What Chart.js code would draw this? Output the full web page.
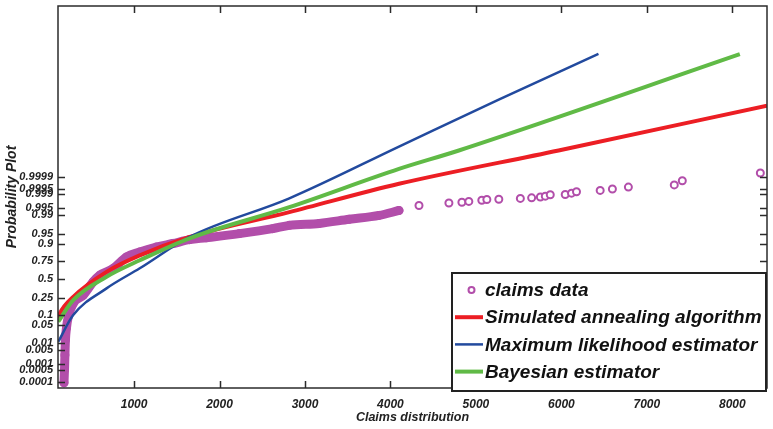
<!DOCTYPE html>
<html>
<head>
<meta charset="utf-8">
<script src="https://cdn.jsdelivr.net/npm/chart.js@4"></script>
<style>
  html, body { margin: 0; padding: 0; background: #fff; }
</style>
</head>
<body>
<canvas id="graf" width="773" height="429"></canvas>
<script>
// y values are kept as normal quantiles (z), the probability plot's own axis
// claims data, dense part of the band
let bandX = [180, 186, 191, 197, 209, 230, 288, 405, 522, 600, 755, 911, 1066, 1261, 1455, 1650, 1845, 2233, 2622, 2817, 3167, 3517, 3867, 4100];
let bandZ = [-3.76, -3.29, -2.75, -2.21, -1.77, -1.36, -0.88, -0.58, -0.09, 0.15, 0.39, 0.81, 0.99, 1.17, 1.30, 1.44, 1.51, 1.66, 1.84, 1.96, 2.03, 2.18, 2.32, 2.50];
// claims data, single points of the upper tail
let tailX = [4334, 4684, 4836, 4917, 5069, 5128, 5268, 5520, 5652, 5754, 5812, 5870, 6045, 6119, 6177, 6454, 6597, 6784, 7321, 7415, 8328];
let tailZ = [2.68, 2.77, 2.80, 2.83, 2.87, 2.90, 2.91, 2.94, 2.96, 2.99, 3.02, 3.07, 3.08, 3.13, 3.18, 3.23, 3.28, 3.35, 3.43, 3.58, 3.86];

// fitted distributions
let saX = [113, 133, 288, 678, 1067, 1650, 2817, 4100, 5967, 8406];
let saZ = [-1.41, -1.23, -0.64, 0.27, 0.87, 1.54, 2.44, 3.47, 4.68, 6.31];
let mleX = [113, 288, 678, 1067, 1650, 2817, 4100, 5267, 6434];
let mleZ = [-2.27, -1.30, -0.33, 0.40, 1.54, 2.94, 4.82, 6.53, 8.19];
let bayesX = [113, 288, 678, 1067, 1650, 2817, 4100, 4800, 8088];
let bayesZ = [-1.54, -0.76, 0.09, 0.69, 1.49, 2.62, 4.01, 4.68, 8.18];

let xTicks = [1000, 2000, 3000, 4000, 5000, 6000, 7000, 8000];
let probTicks = ['0.0001', '0.0005', '0.001', '0.005', '0.01', '0.05', '0.1', '0.25', '0.5', '0.75', '0.9', '0.95', '0.99', '0.995', '0.999', '0.9995', '0.9999'];

let colClaims = 'rgb(178, 78, 170)';
let colSA = 'rgb(236, 30, 36)';
let colMLE = 'rgb(34, 74, 158)';
let colBayes = 'rgb(96, 186, 70)';

// inverse standard normal (Acklam)
function norminv(p){
  let a = [-39.69683028665376, 220.9460984245205, -275.9285104469687, 138.3577518672690, -30.66479806614716, 2.506628277459239];
  let b = [-54.47609879822406, 161.5858368580409, -155.6989798598866, 66.80131188771972, -13.28068155288572];
  let c = [-0.007784894002430293, -0.3223964580411365, -2.400758277161838, -2.549732539343734, 4.374664141464968, 2.938163982698783];
  let d = [0.007784695709041462, 0.3224671290700398, 2.445134137142996, 3.754408661907416];
  let pl = 0.02425, q, r;
  if (p < pl){
    q = Math.sqrt(-2*Math.log(p));
    return (((((c[0]*q+c[1])*q+c[2])*q+c[3])*q+c[4])*q+c[5]) / ((((d[0]*q+d[1])*q+d[2])*q+d[3])*q+1);
  }
  if (p > 1-pl){
    q = Math.sqrt(-2*Math.log(1-p));
    return -(((((c[0]*q+c[1])*q+c[2])*q+c[3])*q+c[4])*q+c[5]) / ((((d[0]*q+d[1])*q+d[2])*q+d[3])*q+1);
  }
  q = p-0.5; r = q*q;
  return (((((a[0]*r+a[1])*r+a[2])*r+a[3])*r+a[4])*r+a[5])*q / (((((b[0]*r+b[1])*r+b[2])*r+b[3])*r+b[4])*r+1);
}

function pts(xs, zs){
  return xs.map((x, i) => ({x: x, y: zs[i]}));
}

let fontFam = '"Liberation Sans", Arial, sans-serif';

// box round the axes with inward ticks, like matlab
let frame = {
  id: 'frame',
  afterDatasetsDraw(chart){
    let ctx = chart.ctx, a = chart.chartArea;
    let xs = chart.scales.x, ys = chart.scales.y;
    ctx.save();
    ctx.strokeStyle = '#2b2b2b';
    ctx.lineWidth = 1.5;
    ctx.beginPath();
    xTicks.forEach(v => {
      let p = Math.round(xs.getPixelForValue(v)) + 0.5;
      ctx.moveTo(p, a.bottom); ctx.lineTo(p, a.bottom - 7);
      ctx.moveTo(p, a.top); ctx.lineTo(p, a.top + 7);
    });
    probTicks.forEach(s => {
      let p = Math.round(ys.getPixelForValue(norminv(parseFloat(s)))) + 0.5;
      ctx.moveTo(a.left, p); ctx.lineTo(a.left + 7, p);
      ctx.moveTo(a.right, p); ctx.lineTo(a.right - 7, p);
    });
    ctx.stroke();
    ctx.strokeRect(a.left, a.top, a.right - a.left, a.bottom - a.top);
    ctx.restore();
  }
};

let legendBox = {
  id: 'legendBox',
  afterDraw(chart){
    let ctx = chart.ctx;
    let bx = 452, by = 273, bw = 314, bh = 118;
    ctx.save();
    ctx.fillStyle = '#fff';
    ctx.fillRect(bx, by, bw, bh);
    ctx.strokeStyle = '#222';
    ctx.lineWidth = 2;
    ctx.strokeRect(bx, by, bw, bh);
    let items = chart.data.datasets.filter(ds => !ds.noLegend);
    items.forEach((ds, i) => {
      let y = by + 17 + i*27.2;
      if (ds.showLine){
        ctx.strokeStyle = ds.borderColor;
        ctx.lineWidth = ds.borderWidth;
        ctx.beginPath();
        ctx.moveTo(bx + 3, y); ctx.lineTo(bx + 31, y);
        ctx.stroke();
      } else {
        ctx.strokeStyle = ds.pointBorderColor;
        ctx.lineWidth = 2;
        ctx.beginPath();
        ctx.arc(bx + 19.5, y, 3, 0, Math.PI*2);
        ctx.stroke();
      }
      ctx.fillStyle = '#111';
      ctx.font = 'italic bold 19px ' + fontFam;
      ctx.textBaseline = 'middle';
      ctx.fillText(ds.label, bx + 33, y + 1);
    });
    ctx.restore();
  }
};

function create_graph(canvas){
  new Chart(canvas, {
    type: 'scatter',
    data: {
      datasets: [{
        label: 'claims data',
        data: pts(bandX, bandZ),
        showLine: false,
        pointRadius: 3.5,
        pointBorderWidth: 2,
        pointBorderColor: colClaims,
        pointBackgroundColor: 'rgba(0,0,0,0)',
        order: 5
      }, {
        label: 'claims band',
        noLegend: true,
        data: pts(bandX, bandZ),
        showLine: true,
        borderColor: colClaims,
        borderWidth: 9,
        borderCapStyle: 'round',
        borderJoinStyle: 'round',
        cubicInterpolationMode: 'monotone',
        pointRadius: 0,
        order: 6
      }, {
        label: 'claims tail',
        noLegend: true,
        data: pts(tailX, tailZ),
        showLine: false,
        pointRadius: 3.5,
        pointBorderWidth: 2,
        pointBorderColor: colClaims,
        pointBackgroundColor: '#fff',
        order: 5
      }, {
        label: 'Simulated annealing algorithm',
        data: pts(saX, saZ),
        showLine: true,
        borderColor: colSA,
        borderWidth: 4,
        cubicInterpolationMode: 'monotone',
        pointRadius: 0,
        order: 3
      }, {
        label: 'Maximum likelihood estimator',
        data: pts(mleX, mleZ),
        showLine: true,
        borderColor: colMLE,
        borderWidth: 2.5,
        cubicInterpolationMode: 'monotone',
        pointRadius: 0,
        order: 2
      }, {
        label: 'Bayesian estimator',
        data: pts(bayesX, bayesZ),
        showLine: true,
        borderColor: colBayes,
        borderWidth: 4,
        cubicInterpolationMode: 'monotone',
        pointRadius: 0,
        order: 1
      }]
    },
    options: {
      responsive: false,
      animation: false,
      layout: { padding: { top: 5, right: 4, left: 0, bottom: 0 } },
      plugins: {
        legend: { display: false },
        tooltip: { enabled: false }
      },
      scales: {
        x: {
          type: 'linear',
          min: 110,
          max: 8406,
          afterBuildTicks: s => { s.ticks = xTicks.map(v => ({value: v})); },
          afterFit: s => { s.height = 41; s.paddingLeft = 0; s.paddingRight = 0; },
          grid: { display: false, drawTicks: false },
          border: { display: false },
          ticks: {
            autoSkip: false, maxRotation: 0, padding: 9, color: '#222',
            callback: v => String(v),
            font: { family: fontFam, size: 12, style: 'italic', weight: 'bold' }
          },
          title: {
            display: true, text: 'Claims distribution', color: '#222',
            padding: { top: 0, bottom: 4 },
            font: { family: fontFam, size: 12.5, style: 'italic', weight: 'bold' }
          }
        },
        y: {
          type: 'linear',
          min: -3.95,
          max: 9.93,
          afterBuildTicks: s => { s.ticks = probTicks.map(t => ({value: norminv(parseFloat(t))})); },
          afterFit: s => { s.width = 58; s.paddingTop = 0; s.paddingBottom = 0; },
          grid: { display: false, drawTicks: false },
          border: { display: false },
          ticks: {
            autoSkip: false, padding: 5, color: '#222',
            callback: (v, i) => probTicks[i],
            font: { family: fontFam, size: 11, style: 'italic', weight: 'bold' }
          },
          title: {
            display: true, text: 'Probability Plot', color: '#222',
            padding: { top: 4, bottom: 0 },
            font: { family: fontFam, size: 14, style: 'italic', weight: 'bold' }
          }
        }
      }
    },
    plugins: [frame, legendBox]
  });
}

create_graph(document.getElementById('graf'));
</script>
</body>
</html>
